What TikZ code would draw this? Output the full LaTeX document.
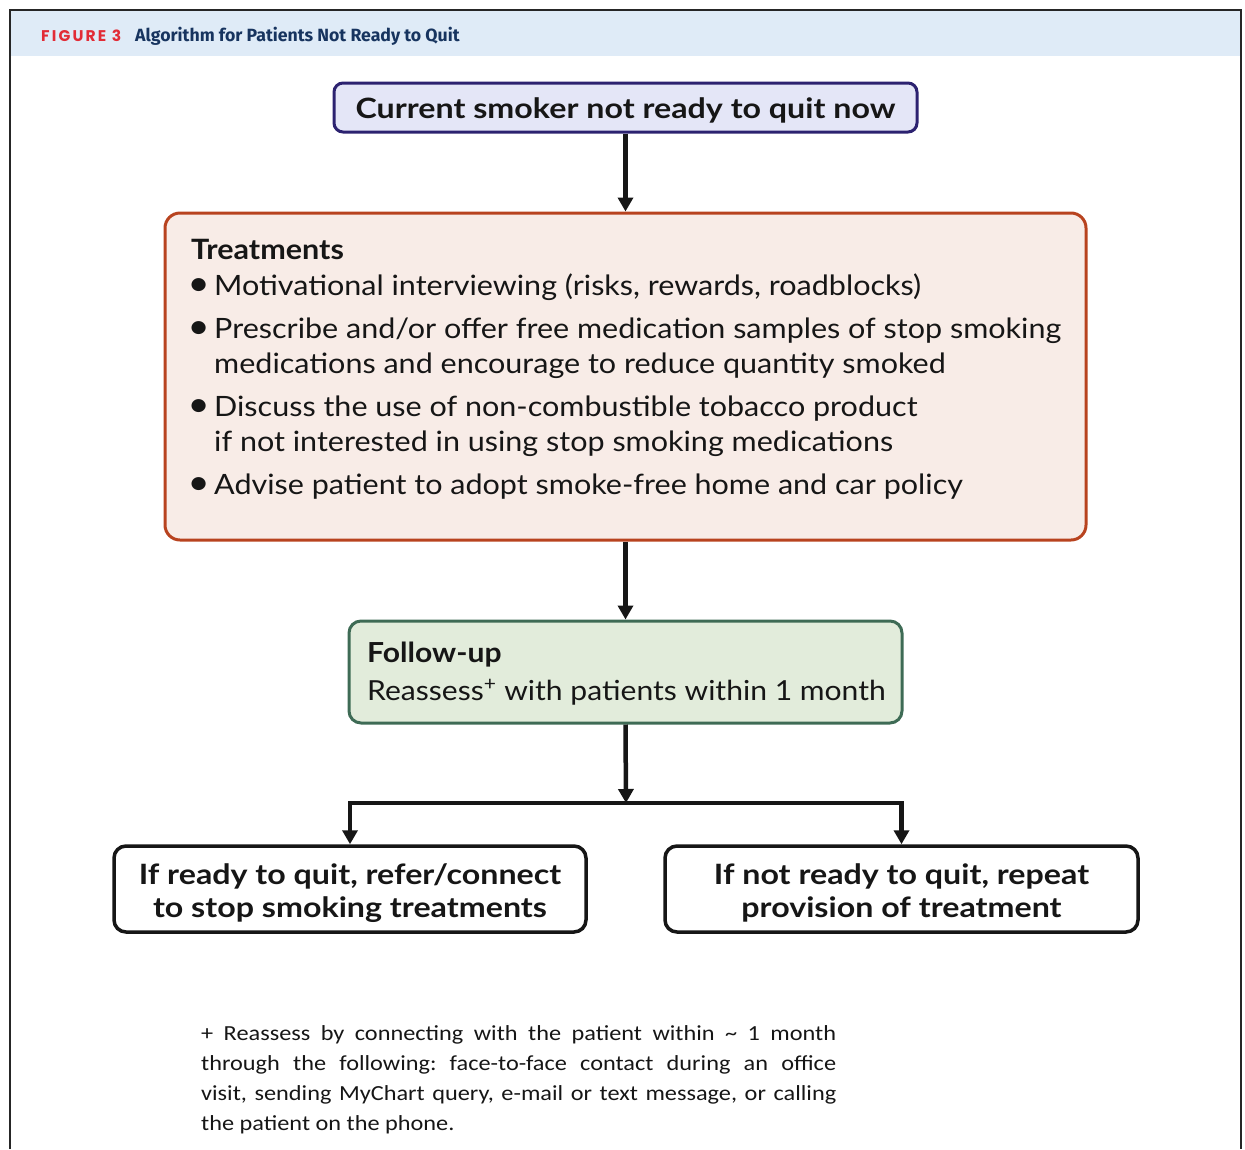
\documentclass[tikz,border=0pt]{standalone}
\usepackage{fontspec}
\setmainfont{Lato}[FakeStretch=1.09]
\newfontfamily\bwide{Lato}[FakeStretch=1.15]
\newfontfamily\footfont{Carlito}[FakeStretch=1.13]
\newfontfamily\headfont{Fira Sans}
\newfontfamily\figfont{Poppins}
\usetikzlibrary{arrows.meta}
\definecolor{hdrbg}{HTML}{DFEBF7}
\definecolor{figred}{HTML}{E22B36}
\definecolor{titblue}{HTML}{17345F}
\definecolor{topfill}{HTML}{E4E6F7}
\definecolor{topline}{HTML}{2C2270}
\definecolor{trfill}{HTML}{F8ECE7}
\definecolor{trline}{HTML}{B8431F}
\definecolor{fufill}{HTML}{E2ECDB}
\definecolor{fuline}{HTML}{3E6B55}
\definecolor{ink}{HTML}{161616}
\newcommand{\bul}{\makebox[23pt][l]{\hspace{-3.5pt}\scalebox{1.25}{\textbullet}}}
\begin{document}
\begin{tikzpicture}[x=1pt,y=-1pt,
  box/.style={draw, rounded corners=10pt, inner sep=0pt, align=center},
  arr/.style={draw=ink, line width=4.5pt, -{Triangle[length=14pt,width=15pt]}},
  arr2/.style={draw=ink, line width=4.5pt, line join=miter, {Triangle[length=14pt,width=15pt]}-{Triangle[length=14pt,width=15pt]}}
]
\useasboundingbox (0,0) rectangle (1245,1149);
% frame and header
\fill[hdrbg] (10,10) rectangle (1241,56);
\draw[line width=2pt, black!85] (10,1149) -- (10,10) -- (1241,10) -- (1241,1149);
\node[anchor=base west, inner sep=0pt, font=\figfont\bfseries\fontsize{15.5}{18}\selectfont, text=figred] (fig) at (41,41) {\addfontfeatures{LetterSpace=14}FIGURE 3};
\node[anchor=base west, inner sep=0pt, font=\headfont\bfseries\fontsize{17.7}{20}\selectfont, text=titblue] (title) at (135,41) {Algorithm for Patients Not Ready to Quit};
% boxes
\node[box, draw=topline, fill=topfill, line width=3pt, minimum width=583pt, minimum height=49pt, rounded corners=9pt, font=\bwide\bfseries\fontsize{28}{32}\selectfont, text=ink] (top) at (625.5,107.5) {\rule{0pt}{27pt}Current smoker not ready to quit now};
\node[box, draw=trline, fill=trfill, line width=3pt, minimum width=921pt, minimum height=327pt, rounded corners=15pt] (treat) at (625.5,376.5) {};
\node[anchor=base west, inner sep=0pt, align=left, text=ink, font=\fontsize{28}{35}\selectfont] (trtext) at (191,494) {%
\textbf{Treatments}\\[1pt]
\bul Motivational interviewing (risks, rewards, roadblocks)\\[8pt]
\bul Prescribe and/or offer free medication samples of stop smoking\\
\hspace*{23pt}medications and encourage to reduce quantity smoked\\[8pt]
\bul Discuss the use of non-combustible tobacco product\\
\hspace*{23pt}if not interested in using stop smoking medications\\[8pt]
\bul Advise patient to adopt smoke-free home and car policy};
\node[box, draw=fuline, fill=fufill, line width=3pt, minimum width=553pt, minimum height=102pt, rounded corners=12pt] (fu) at (625.5,672) {};
\node[anchor=base west, inner sep=0pt, align=left, text=ink, font=\fontsize{27.6}{38}\selectfont] (futext) at (367,700) {\textbf{Follow-up}\\Reassess\textsuperscript{+} with patients within 1 month};
\node[box, draw=ink, fill=white, line width=3.5pt, minimum width=472pt, minimum height=86pt, rounded corners=12pt, font=\bwide\bfseries\fontsize{28}{33}\selectfont, text=ink] (left) at (350,889) {\rule{0pt}{29pt}If ready to quit, refer/connect\\to stop smoking treatments};
\node[box, draw=ink, fill=white, line width=3.5pt, minimum width=473pt, minimum height=86pt, rounded corners=12pt, font=\bwide\bfseries\fontsize{28}{33}\selectfont, text=ink] (right) at (901.5,889) {\rule{0pt}{29pt}If not ready to quit, repeat\\provision of treatment};
\coordinate (junc) at (626,803);
% connectors
\draw[arr] (top.south) -- (treat.north);
\draw[arr] (treat.south) -- (fu.north);
\draw[arr] (fu.south) -- (junc);
\draw[arr2] (left.north) -- (left.north |- junc) -- (right.north |- junc) -- (right.north);
% footnote
\node[anchor=base west, inner sep=0pt, text width=635pt, align=justify, text=ink, font=\footfont\fontsize{21.5}{30}\selectfont] (foot) at (201,1040) {\frenchspacing\hyphenpenalty=10000 + Reassess by connecting with the patient within \textasciitilde{} 1 month\linebreak through the following: face-to-face contact during an office\linebreak visit, sending MyChart query, e-mail or text message, or calling\linebreak the patient on the phone.};
\end{tikzpicture}
\end{document}
